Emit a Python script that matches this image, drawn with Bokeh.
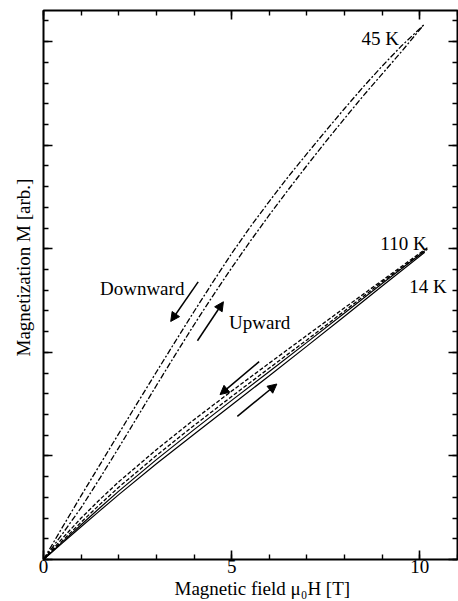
from bokeh.plotting import figure
from bokeh.models import LinearAxis, FixedTicker, Range1d, Label, Arrow, NormalHead, Title
from bokeh.embed import file_html
from bokeh.resources import INLINE

# ---- data ----
# 45 K, downward sweep (upper branch)
h45_down = [0, 0.5, 1, 1.5, 2, 2.5, 3, 3.5, 4, 4.5, 5, 5.5, 6, 6.5, 7, 7.5, 8, 8.5, 9, 9.5, 10.1]
m45_down = [0, 1.55, 3.08, 4.58, 6.08, 7.57, 9.05, 10.52, 11.97, 13.39, 14.77, 16.07, 17.29,
            18.47, 19.59, 20.69, 21.77, 22.82, 23.82, 24.77, 25.8]
# 45 K, upward sweep (lower branch)
h45_up = [0, 0.5, 1, 1.5, 2, 2.5, 3, 3.5, 4, 4.5, 5, 5.5, 6, 6.5, 7, 7.5, 8, 8.5, 9, 9.5, 10.1]
m45_up = [0, 1.23, 2.5, 3.93, 5.4, 6.9, 8.4, 9.88, 11.33, 12.73, 14.08, 15.38, 16.63,
          17.84, 19.02, 20.17, 21.29, 22.39, 23.44, 24.49, 25.8]
# 110 K
h110 = [0, 0.5, 1, 1.5, 2, 3, 4, 5, 6, 7, 8, 9, 10.2]
m110_down = [0, 1.02, 2.0, 2.9, 3.75, 5.3, 6.75, 8.13, 9.48, 10.82, 12.15, 13.47, 15.05]
m110_up = [0, 0.9, 1.8, 2.66, 3.49, 5.02, 6.47, 7.87, 9.24, 10.6, 12.0, 13.4, 14.98]
# 14 K
h14 = [0, 0.5, 1, 1.5, 2, 3, 4, 5, 6, 7, 8, 9, 10.13]
m14_down = [0, 0.84, 1.68, 2.5, 3.3, 4.82, 6.27, 7.68, 9.07, 10.48, 11.9, 13.32, 14.9]
m14_up = [0, 0.79, 1.58, 2.36, 3.13, 4.62, 6.05, 7.46, 8.87, 10.3, 11.74, 13.2, 14.83]

x_major = [0, 5, 10]
x_minor = list(range(0, 12))
y_major = [0, 5, 10, 15, 20, 25]
y_minor = list(range(0, 27))
x_tick_labels = {0: "0", 5: "5", 10: "10"}

# annotation positions (data units): arrows (x_start, y_start, x_end, y_end)
arrows = [
    (4.11, 13.4, 3.38, 11.49),
    (4.09, 10.56, 4.78, 12.44),
    (5.73, 9.55, 4.69, 7.96),
    (5.15, 6.91, 6.20, 8.47),
]
texts = [
    ("45 K", 8.45, 25.15),
    ("110 K", 8.95, 15.27),
    ("14 K", 9.72, 13.2),
    ("Downward", 1.5, 13.1),
    ("Upward", 4.93, 11.44),
]

FONT = "Liberation Serif"
FS = "19px"

p = figure(width=458, height=601, output_backend="svg", toolbar_location=None,
           x_range=Range1d(0, 11), y_range=Range1d(0, 26.5),
           min_border_left=43, min_border_right=1, min_border_top=10, min_border_bottom=42,
           x_axis_location=None, y_axis_location=None)
p.grid.grid_line_color = None
p.outline_line_color = "black"
p.outline_line_width = 2
p.background_fill_color = "white"
p.border_fill_color = "white"


def make_axis(ticks, minor, show_labels):
    ax = LinearAxis(ticker=FixedTicker(ticks=ticks, minor_ticks=minor))
    ax.axis_line_color = None
    ax.major_tick_in = 9
    ax.major_tick_out = 0
    ax.minor_tick_in = 5
    ax.minor_tick_out = 0
    ax.major_tick_line_width = 1.6
    ax.minor_tick_line_width = 1.4
    ax.major_tick_line_color = "black"
    ax.minor_tick_line_color = "black"
    if show_labels:
        ax.major_label_text_font = FONT
        ax.major_label_text_font_size = FS
        ax.major_label_text_color = "black"
        ax.major_label_standoff = 0
        ax.major_label_overrides = x_tick_labels
    else:
        ax.major_label_text_color = None
        ax.major_label_text_font_size = "1px"
        ax.major_label_standoff = 0
    return ax


p.add_layout(make_axis(x_major, x_minor, True), "below")
p.add_layout(make_axis(x_major, x_minor, False), "above")
p.add_layout(make_axis(y_major, y_minor, False), "left")
p.add_layout(make_axis(y_major, y_minor, False), "right")

# axis titles
p.add_layout(Title(text="Magnetic field \u03bc\u2080H [T]", align="left", offset=131,
                   standoff=0, text_font=FONT, text_font_size=FS, text_font_style="normal",
                   text_color="black"), "below")
p.add_layout(Title(text="Magnetization M [arb.]", align="left", offset=203,
                   standoff=19, text_font=FONT, text_font_size=FS, text_font_style="normal",
                   text_color="black"), "left")

# curves
dashdot = "6 2 2 2"
p.line(h45_down, m45_down, line_color="black", line_width=1.3, line_dash=dashdot)
p.line(h45_up, m45_up, line_color="black", line_width=1.3, line_dash=dashdot)
p.line(h110, m110_down, line_color="black", line_width=1.3, line_dash="4 2")
p.line(h110, m110_up, line_color="black", line_width=1.3, line_dash="4 2")
p.line(h14, m14_down, line_color="black", line_width=1.2)
p.line(h14, m14_up, line_color="black", line_width=1.2)

for (xs, ys, xe, ye) in arrows:
    p.add_layout(Arrow(x_start=xs, y_start=ys, x_end=xe, y_end=ye,
                       line_color="black", line_width=1.5,
                       end=NormalHead(size=9, fill_color="black", line_color="black", line_width=1)))

for (t, x, y) in texts:
    p.add_layout(Label(x=x, y=y, text=t, text_font=FONT, text_font_size=FS,
                       text_color="black", text_align="left", text_baseline="alphabetic"))

open("out.html", "w").write(file_html(p, INLINE))
